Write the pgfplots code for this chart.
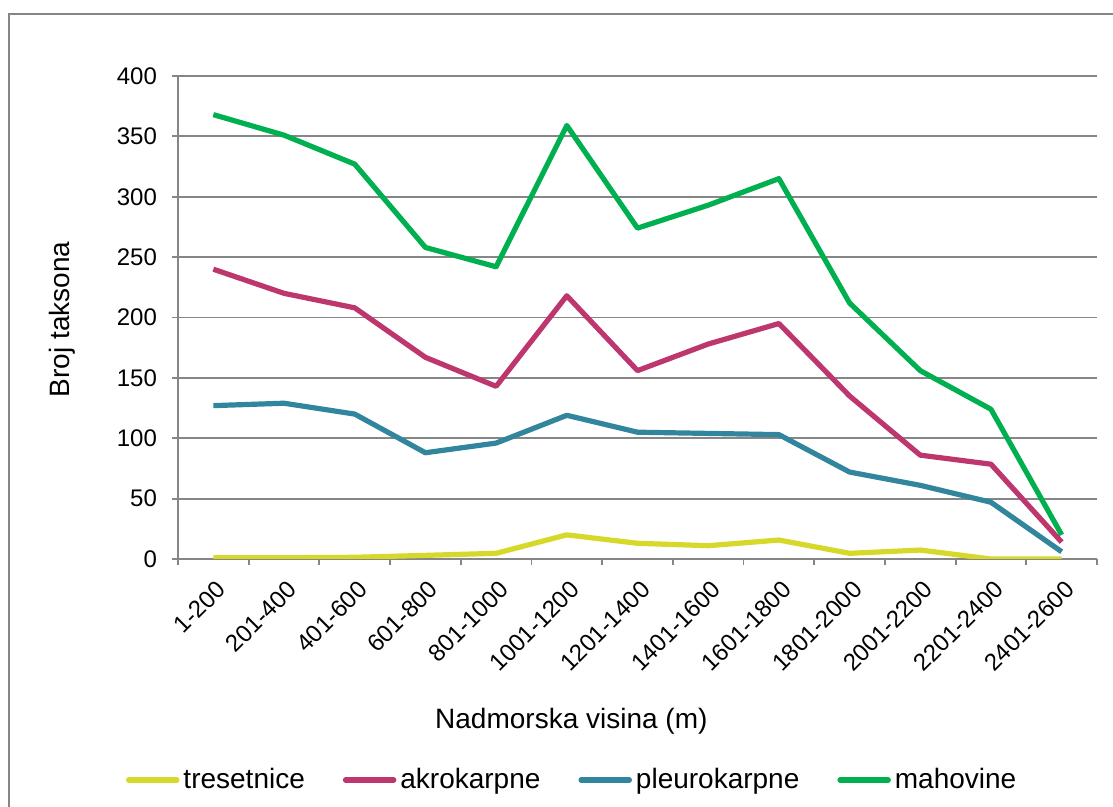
\documentclass[border=0pt]{standalone}
\usepackage{fontspec}
\setmainfont{Liberation Sans}
\usepackage{pgfplots}
\pgfplotsset{compat=1.18}
\definecolor{cY}{RGB}{214,216,42}
\definecolor{cM}{RGB}{190,54,110}
\definecolor{cB}{RGB}{49,133,156}
\definecolor{cG}{RGB}{0,176,80}
\definecolor{gridc}{RGB}{134,134,134}
\begin{document}
\begin{tikzpicture}
\path[use as bounding box] (0pt,0pt) rectangle (556.5pt,403.5pt);
\draw[gridc, line width=0.8pt] (4.5pt,-10pt) -- (4.5pt,396.5pt) -- (570pt,396.5pt);
\begin{axis}[
  at={(89pt,124pt)}, anchor=south west,
  scale only axis, width=459.5pt, height=241.5pt,
  xmin=-0.5, xmax=12.5, ymin=0, ymax=400,
  axis x line*=bottom, axis y line*=left,
  axis line style={gridc, line width=0.9pt, -},
  ytick={0,50,...,400}, ymajorgrids,
  grid style={gridc, line width=0.9pt},
  xtick={-0.5,0.5,...,12.5}, xticklabels={},
  extra x ticks={0,1,2,3,4,5,6,7,8,9,10,11,12},
  extra x tick labels={1-200,201-400,401-600,601-800,801-1000,1001-1200,1201-1400,1401-1600,1601-1800,1801-2000,2001-2200,2201-2400,2401-2600},
  extra x tick style={major tick length=0pt, grid=none,
     xticklabel style={rotate=45, anchor=north east, yshift=-4.5pt, xshift=-3pt}},
  tick align=outside, major tick length=3pt,
  tick style={gridc, line width=0.9pt},
  /pgf/number format/assume math mode=true,
  ticklabel style={font=\fontsize{12}{14}\selectfont},
  yticklabel style={xshift=-4pt},
  xlabel={Nadmorska visina (m)},
  ylabel={Broj taksona},
  xlabel style={at={(axis description cs:0.428,-0.335)}, anchor=center, font=\fontsize{14}{16}\selectfont},
  ylabel style={at={(axis description cs:-0.126,0.496)}, anchor=center, font=\fontsize{14}{16}\selectfont},
  legend columns=4,
  legend style={at={(axis description cs:0.43,-0.4575)}, anchor=center, draw=none,
     font=\fontsize{14}{16}\selectfont,
     /tikz/every even column/.append style={column sep=17pt}},
  legend image code/.code={\draw[#1, line width=2.75pt, line cap=round] (0pt,0pt) -- (24pt,0pt);},
  every axis plot/.append style={line width=2.6pt, line join=round},
]
\addplot[cY] coordinates {(0,1) (1,1) (2,1.4) (3,3) (4,4.7) (5,20) (6,13) (7,11) (8,15.7) (9,4.7) (10,7.4) (11,0) (12,0)};
\addlegendentry{tresetnice}
\addplot[cM] coordinates {(0,240) (1,220) (2,208) (3,167) (4,143) (5,218) (6,156) (7,178) (8,195) (9,135) (10,86) (11,78.5) (12,14)};
\addlegendentry{akrokarpne}
\addplot[cB] coordinates {(0,127) (1,129) (2,120) (3,88) (4,96) (5,119) (6,105) (7,104) (8,103) (9,72) (10,61) (11,47) (12,6)};
\addlegendentry{pleurokarpne}
\addplot[cG] coordinates {(0,368) (1,351) (2,327) (3,258) (4,242) (5,359) (6,274) (7,293) (8,315) (9,212) (10,156) (11,124) (12,20)};
\addlegendentry{mahovine}
\end{axis}
\end{tikzpicture}
\end{document}
